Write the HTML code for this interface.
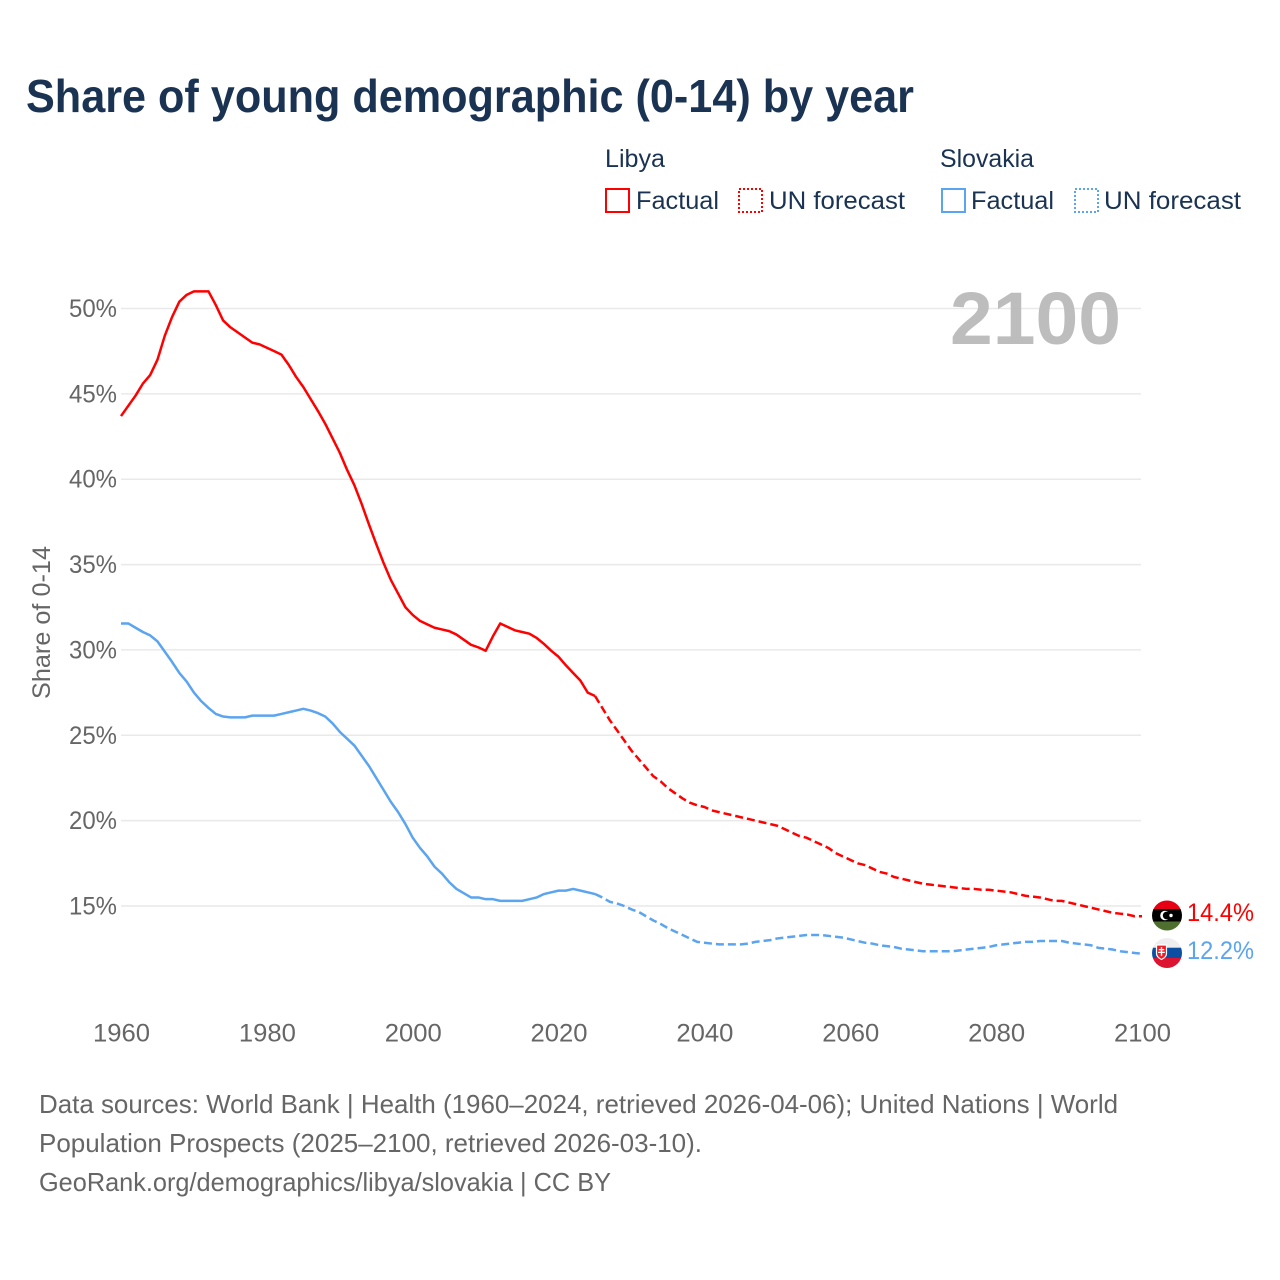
<!DOCTYPE html>
<html lang="en">
<head>
<meta charset="utf-8">
<title>Share of young demographic (0-14) by year</title>
<style>
html,body{margin:0;padding:0;background:#fff;width:1280px;height:1280px;overflow:hidden}
svg{display:block}
text{font-family:"Liberation Sans",sans-serif}
</style>
</head>
<body>
<svg id="chart" xmlns="http://www.w3.org/2000/svg" width="1280" height="1280" viewBox="0 0 1280 1280">
  <defs>
    <clipPath id="clip-libya"><circle cx="1167" cy="915.5" r="15"/></clipPath>
    <clipPath id="clip-slovakia"><circle cx="1167" cy="953" r="15"/></clipPath>
  </defs>
  <rect x="0" y="0" width="1280" height="1280" fill="#fff"/>
  <text x="26" y="112" font-size="46" font-weight="700" fill="#1a3353" textLength="888" lengthAdjust="spacingAndGlyphs">Share of young demographic (0-14) by year</text>

  <g font-size="25" fill="#1a3353">
    <text x="605" y="167" textLength="60" lengthAdjust="spacingAndGlyphs">Libya</text>
    <text x="940" y="167" textLength="94" lengthAdjust="spacingAndGlyphs">Slovakia</text>
    <rect x="606" y="189" width="23" height="23" fill="none" stroke="#ff0000" stroke-width="2"/>
    <text x="636" y="209" textLength="83" lengthAdjust="spacingAndGlyphs">Factual</text>
    <rect x="739" y="189" width="23" height="23" fill="none" stroke="#ff0000" stroke-width="2" stroke-dasharray="2 2"/>
    <text x="769" y="209" textLength="136" lengthAdjust="spacingAndGlyphs">UN forecast</text>
    <rect x="942" y="189" width="23" height="23" fill="none" stroke="#5ba4ef" stroke-width="2"/>
    <text x="971" y="209" textLength="83" lengthAdjust="spacingAndGlyphs">Factual</text>
    <rect x="1075" y="189" width="23" height="23" fill="none" stroke="#5ba4ef" stroke-width="2" stroke-dasharray="2 2"/>
    <text x="1104" y="209" textLength="137" lengthAdjust="spacingAndGlyphs">UN forecast</text>
  </g>

  <g id="grid"></g>
  <g id="y-ticks" font-size="25" fill="#666"></g>
  <g id="x-ticks" font-size="25" fill="#666"></g>
  <text transform="translate(50,622.5) rotate(-90)" text-anchor="middle" font-size="25" fill="#666" textLength="153" lengthAdjust="spacingAndGlyphs">Share of 0-14</text>

  <text x="950" y="344" font-size="74" font-weight="700" fill="#bdbdbd" textLength="171" lengthAdjust="spacingAndGlyphs">2100</text>

  <g id="series"></g>

  <g clip-path="url(#clip-libya)">
    <rect x="1152" y="900" width="30" height="9.5" fill="#e70013"/>
    <rect x="1152" y="909" width="30" height="13" fill="#000"/>
    <rect x="1152" y="921.5" width="30" height="10" fill="#4f6f2f"/>
    <circle cx="1165" cy="915.5" r="4.8" fill="#fff"/>
    <circle cx="1166.7" cy="915.5" r="3.9" fill="#000"/>
    <circle cx="1171" cy="915.5" r="1.7" fill="#fff"/>
  </g>
  <g clip-path="url(#clip-slovakia)">
    <rect x="1152" y="938" width="30" height="10" fill="#eeeeee"/>
    <rect x="1152" y="947.7" width="30" height="10.6" fill="#0b4ea2"/>
    <rect x="1152" y="958" width="30" height="10" fill="#dc1431"/>
    <path d="M1156.5 945h10v8.5c0 3-2.5 4.8-5 6-2.5-1.2-5-3-5-6z" fill="#ee1c25" stroke="#fff" stroke-width="1.2"/>
    <path d="M1160.8 947h1.4v2h2v1.3h-2v1.4h2.6V953h-2.6v3h-1.4v-3h-2.6v-1.3h2.6v-1.4h-2V949h2z" fill="#fff"/>
  </g>

  <text x="1187" y="921" font-size="25" fill="#ff0000" textLength="67" lengthAdjust="spacingAndGlyphs">14.4%</text>
  <text x="1187" y="959" font-size="25" fill="#5ba4ef" textLength="67" lengthAdjust="spacingAndGlyphs">12.2%</text>

  <g font-size="26" fill="#666">
    <text x="39" y="1113" textLength="1079" lengthAdjust="spacingAndGlyphs">Data sources: World Bank | Health (1960–2024, retrieved 2026-04-06); United Nations | World</text>
    <text x="39" y="1152" textLength="663" lengthAdjust="spacingAndGlyphs">Population Prospects (2025–2100, retrieved 2026-03-10).</text>
    <text x="39" y="1191" textLength="572" lengthAdjust="spacingAndGlyphs">GeoRank.org/demographics/libya/slovakia | CC BY</text>
  </g>
</svg>
<script>
const factualStartYear = 1960;
const forecastStartYear = 2025;
const xTicks = [1960, 1980, 2000, 2020, 2040, 2060, 2080, 2100];
const yTicks = [15, 20, 25, 30, 35, 40, 45, 50];
const libyaFactual = [
  43.7,44.3,44.9,45.6,46.1,47.0,48.4,49.5,50.4,50.8,
  51.0,51.0,51.0,50.2,49.3,48.9,48.6,48.3,48.0,47.9,
  47.7,47.5,47.3,46.7,46.0,45.4,44.7,44.0,43.25,42.4,
  41.55,40.55,39.65,38.55,37.35,36.2,35.1,34.1,33.3,32.5,
  32.05,31.7,31.5,31.3,31.2,31.1,30.9,30.6,30.3,30.15,
  29.95,30.8,31.55,31.35,31.15,31.05,30.95,30.7,30.35,29.95,
  29.6,29.1,28.65,28.2,27.5,27.3
];
const libyaForecast = [
  27.3,26.6,25.9,25.3,24.7,24.1,23.6,23.1,22.6,22.3,
  21.9,21.6,21.3,21.05,20.9,20.8,20.6,20.5,20.4,20.3,
  20.2,20.1,20.0,19.9,19.8,19.7,19.5,19.3,19.1,19.0,
  18.8,18.6,18.4,18.1,17.9,17.7,17.5,17.4,17.2,17.0,
  16.9,16.7,16.6,16.5,16.4,16.3,16.25,16.2,16.15,16.1,
  16.05,16.0,16.0,15.95,15.95,15.9,15.85,15.8,15.7,15.6,
  15.55,15.5,15.4,15.3,15.3,15.2,15.1,15.0,14.9,14.8,
  14.7,14.6,14.55,14.5,14.4,14.4
];
const slovakiaFactual = [
  31.55,31.55,31.3,31.05,30.85,30.5,29.9,29.3,28.65,28.15,
  27.5,27.0,26.6,26.25,26.1,26.05,26.05,26.05,26.15,26.15,
  26.15,26.15,26.25,26.35,26.45,26.55,26.45,26.3,26.1,25.7,
  25.2,24.8,24.4,23.8,23.2,22.5,21.8,21.1,20.5,19.8,
  19.0,18.4,17.9,17.3,16.9,16.4,16.0,15.75,15.5,15.5,
  15.4,15.4,15.3,15.3,15.3,15.3,15.4,15.5,15.7,15.8,
  15.9,15.9,16.0,15.9,15.8,15.7
];
const slovakiaForecast = [
  15.7,15.5,15.25,15.15,15.0,14.8,14.65,14.4,14.15,13.95,
  13.7,13.5,13.3,13.1,12.9,12.85,12.8,12.75,12.75,12.75,
  12.75,12.8,12.9,12.95,13.0,13.1,13.15,13.2,13.25,13.3,
  13.3,13.3,13.25,13.2,13.15,13.05,12.95,12.85,12.8,12.7,
  12.65,12.6,12.5,12.45,12.4,12.35,12.35,12.35,12.35,12.35,
  12.4,12.45,12.5,12.55,12.6,12.7,12.75,12.8,12.85,12.9,
  12.9,12.95,12.95,12.95,12.95,12.85,12.8,12.75,12.7,12.55,
  12.5,12.45,12.35,12.3,12.25,12.2
];

const NS = 'http://www.w3.org/2000/svg';
function xScale(year) { return 121 + (year - 1960) * (1142 - 121) / 140; }
function yScale(pct) { return 906 - (pct - 15) * (906 - 308.5) / 35; }
function linePath(values, startYear) {
  return values.map(function (v, i) {
    return (i ? 'L' : 'M') + xScale(startYear + i).toFixed(2) + ' ' + yScale(v).toFixed(2);
  }).join('');
}

const gridGroup = document.getElementById('grid');
const yGroup = document.getElementById('y-ticks');
yTicks.forEach(function (t) {
  const line = document.createElementNS(NS, 'line');
  
  
  line.setAttribute('x1', 121);
  line.setAttribute('x2', 1141);
  line.setAttribute('y1', yScale(t));
  line.setAttribute('y2', yScale(t));
  line.setAttribute('stroke', '#e9e9e9');
  line.setAttribute('stroke-width', 1.5);
  gridGroup.appendChild(line);
  const label = document.createElementNS(NS, 'text');
  
  
  label.setAttribute('x', 69);
  label.setAttribute('y', yScale(t) + 8.5);
  label.setAttribute('textLength', 48);
  label.setAttribute('lengthAdjust', 'spacingAndGlyphs');
  label.textContent = t + '%';
  yGroup.appendChild(label);
});

const xGroup = document.getElementById('x-ticks');
xTicks.forEach(function (t) {
  const label = document.createElementNS(NS, 'text');
  
  
  label.setAttribute('x', xScale(t) - 28);
  label.setAttribute('y', 1041.5);
  label.setAttribute('textLength', 57);
  label.setAttribute('lengthAdjust', 'spacingAndGlyphs');
  label.textContent = t;
  xGroup.appendChild(label);
});

const seriesGroup = document.getElementById('series');
function addLine(values, startYear, color, dashed, name) {
  const p = document.createElementNS(NS, 'path');
  
  
  p.setAttribute('d', linePath(values, startYear));
  p.setAttribute('fill', 'none');
  p.setAttribute('stroke', color);
  p.setAttribute('stroke-width', 2.5);
  p.setAttribute('stroke-linejoin', 'round');
  if (dashed) p.setAttribute('stroke-dasharray', '8 4');
  seriesGroup.appendChild(p);
}
addLine(libyaFactual, factualStartYear, '#ff0000', false, 'line-libya-factual');
addLine(libyaForecast, forecastStartYear, '#ff0000', true, 'line-libya-forecast');
addLine(slovakiaFactual, factualStartYear, '#5ba4ef', false, 'line-slovakia-factual');
addLine(slovakiaForecast, forecastStartYear, '#5ba4ef', true, 'line-slovakia-forecast');
</script>
</body>
</html>
